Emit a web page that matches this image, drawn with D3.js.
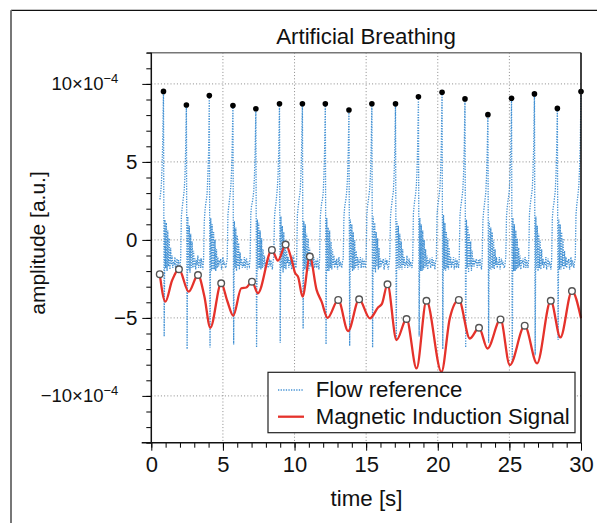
<!DOCTYPE html>
<html>
<head>
<meta charset="utf-8">
<script src="https://cdn.jsdelivr.net/npm/d3@7"></script>
<style>
  body { margin: 0; background: #fff; }
  svg text { font-family: "Liberation Sans", Arial, Helvetica, sans-serif; fill: #111; }
</style>
</head>
<body>
<div id="chart"></div>
<script>
// chart texts
const title = "Artificial Breathing";
const xLabel = "time [s]";
const yLabel = "amplitude [a.u.]";
const seriesNames = ["Flow reference", "Magnetic Induction Signal"];

// tick values (amplitude in units of 1e-4)
const xTicks = [0, 5, 10, 15, 20, 25, 30];
const yTicks = [-10, -5, 0, 5, 10];
const yExponent = "−4";

// flow reference, sampled every 0.05 s from t = 0.6 s (units 1e-4), one breath per row
const flowStart = 0.6, flowStep = 0.05;
const flowValues = [
  2.6, 3.0, 3.5, 4.6, 6.4,
  9.52, -6.2, 1.3, -1.8, 1.1, -2.0, 0.6, -1.7, 0.1, -1.9, -0.5, -1.6, -1.0, -1.8, -1.4, -1.5, -1.1, -1.9, -1.5, -1.2, -1.7, -1.3, -1.6, -1.8, -1.2, 1.5, 2.0, 2.4, 2.8, 3.2, 4.1, 5.9,
  8.65, -7.0, 1.5, -1.9, 0.9, -2.1, 0.4, -1.8, -0.1, -1.8, -0.7, -1.7, -1.2, -1.9, -1.3, -1.6, -1.0, -1.8, -1.4, -1.3, -1.8, -1.2, -1.5, -1.9, -1.3, 1.2, 1.9, 2.3, 2.6, 3.0, 4.2, 5.6,
  9.25, -6.9, 1.4, -2.0, 1.0, -1.9, 0.5, -1.9, 0.0, -2.0, -0.6, -1.8, -1.1, -1.7, -1.3, -1.5, -1.2, -1.9, -1.6, -1.1, -1.6, -1.4, -1.7, -1.8, -1.5, -1.2, 1.6, 2.1, 2.5, 2.9, 3.4, 4.3, 6.1,
  8.61, -6.7, 1.2, -1.8, 0.8, -2.0, 0.3, -1.7, -0.2, -1.9, -0.8, -1.6, -1.2, -1.8, -1.4, -1.7, -1.1, -1.8, -1.3, -1.2, -1.9, -1.4, -1.6, -1.7, -1.1, 1.7, 2.2, 2.4, 2.7, 3.1, 4.0, 5.7,
  8.41, -6.9, 1.3, -1.9, 1.1, -1.8, 0.6, -1.9, 0.1, -1.8, -0.6, -1.7, -1.0, -1.9, -1.5, -1.4, -1.2, -1.8, -1.6, -1.2, -1.7, -1.3, -1.5, -1.9, -1.4, -1.1, 1.4, 2.0, 2.3, 2.8, 3.3, 4.2, 5.8,
  8.73, -6.6, 1.5, -1.8, 0.9, -2.1, 0.5, -1.8, 0.0, -1.9, -0.7, -1.5, -1.1, -1.8, -1.3, -1.6, -1.2, -1.9, -1.4, -1.0, -1.7, -1.3, -1.6, -1.8, -1.2, 1.6, 2.1, 2.5, 2.8, 3.2, 4.3, 6.0,
  8.73, -5.7, 1.2, -1.9, 1.0, -1.9, 0.4, -1.7, 0.1, -2.0, -0.5, -1.7, -1.2, -1.7, -1.4, -1.5, -1.1, -1.8, -1.5, -1.3, -1.8, -1.2, -1.5, -1.9, -1.3, 1.5, 2.0, 2.4, 2.6, 3.0, 4.1, 5.8,
  8.72, -6.7, 1.4, -2.0, 0.8, -2.0, 0.6, -1.8, -0.1, -1.9, -0.6, -1.6, -1.0, -1.8, -1.3, -1.6, -1.2, -1.9, -1.5, -1.1, -1.7, -1.4, -1.6, -1.8, -1.4, -1.2, 1.5, 2.1, 2.4, 2.7, 3.2, 4.0, 5.7,
  8.33, -6.8, 1.3, -1.8, 1.0, -2.0, 0.5, -1.9, 0.0, -1.8, -0.7, -1.7, -1.1, -1.9, -1.4, -1.5, -1.1, -1.8, -1.4, -1.2, -1.8, -1.3, -1.5, -1.8, -1.2, 1.6, 2.2, 2.5, 2.9, 3.3, 4.2, 5.9,
  8.73, -6.9, 1.5, -1.9, 1.1, -2.1, 0.5, -1.7, 0.1, -1.9, -0.5, -1.8, -1.2, -1.7, -1.3, -1.5, -1.2, -1.9, -1.6, -1.2, -1.6, -1.3, -1.7, -1.9, -1.5, -1.1, 1.5, 2.0, 2.4, 2.8, 3.1, 4.1, 5.8,
  8.72, -6.4, 1.2, -1.8, 0.9, -1.9, 0.4, -1.8, -0.1, -1.9, -0.6, -1.6, -1.1, -1.8, -1.4, -1.6, -1.0, -1.8, -1.5, -1.2, -1.7, -1.4, -1.6, -1.8, -1.3, 1.7, 2.2, 2.6, 2.9, 3.4, 4.4, 6.2,
  9.17, -6.2, 1.4, -2.0, 1.0, -2.0, 0.6, -1.9, 0.0, -1.8, -0.6, -1.7, -1.0, -1.9, -1.3, -1.5, -1.2, -1.8, -1.6, -1.1, -1.7, -1.3, -1.5, -1.9, -1.4, -1.2, 1.6, 2.2, 2.5, 2.9, 3.3, 4.4, 6.2,
  9.46, -7.0, 1.6, -1.9, 1.1, -2.0, 0.5, -1.8, 0.1, -1.9, -0.5, -1.6, -1.1, -1.8, -1.4, -1.6, -1.1, -1.9, -1.4, -1.2, -1.8, -1.3, -1.6, -1.8, -1.2, 1.5, 2.1, 2.4, 2.8, 3.2, 4.2, 6.0,
  9.04, -6.9, 1.3, -1.8, 0.9, -2.1, 0.4, -1.7, -0.1, -2.0, -0.7, -1.7, -1.2, -1.7, -1.3, -1.5, -1.2, -1.8, -1.5, -1.3, -1.7, -1.2, -1.6, -1.9, -1.3, 1.2, 1.8, 2.2, 2.6, 3.0, 4.0, 5.6,
  8.03, -6.6, 1.2, -1.9, 0.8, -1.9, 0.5, -1.8, 0.0, -1.9, -0.6, -1.6, -1.1, -1.8, -1.4, -1.6, -1.1, -1.9, -1.5, -1.2, -1.6, -1.4, -1.7, -1.8, -1.5, -1.1, 1.5, 2.1, 2.5, 2.8, 3.2, 4.3, 6.0,
  9.08, -7.9, 1.4, -2.0, 1.0, -2.0, 0.6, -1.9, 0.1, -1.8, -0.5, -1.7, -1.0, -1.9, -1.3, -1.5, -1.2, -1.8, -1.4, -1.1, -1.8, -1.3, -1.5, -1.8, -1.2, 1.6, 2.2, 2.6, 2.9, 3.3, 4.3, 6.1,
  9.36, -7.4, 1.5, -1.8, 0.9, -2.0, 0.4, -1.8, 0.0, -1.9, -0.6, -1.6, -1.2, -1.8, -1.4, -1.6, -1.1, -1.9, -1.5, -1.2, -1.7, -1.4, -1.6, -1.9, -1.3, 1.4, 2.0, 2.3, 2.7, 3.1, 4.1, 5.7,
  8.43, -6.4, 1.3, -1.9, 1.0, -1.9, 0.5, -1.7, 0.1, -1.9, -0.7, -1.7, -1.1, -1.8, -1.3, -1.5, -1.2, -1.9, -1.6, -1.1, -1.7, -1.3, -1.5, -1.8, -1.4, -1.2, 1.6, 2.2, 2.6, 3.0, 3.5, 4.6, 6.3,
  9.51
];

// magnetic induction signal, turning points (units 1e-4)
const mindTime = [0.59, 0.98, 1.45, 1.93, 2.61, 3.26, 3.7, 4.12, 4.88, 5.3, 5.72, 6.28, 6.63, 7.03, 7.44,
  8.42, 8.84, 9.38, 9.8, 10.03, 10.26, 10.56, 11.07, 11.54, 11.89, 12.31, 13.05, 13.74, 14.51, 15.26,
  15.84, 16.1, 16.49, 17.12, 17.82, 18.52, 19.21, 20.26, 20.84, 21.47, 22.24, 22.88, 23.47, 24.38,
  25.03, 26.07, 26.93, 27.89, 28.56, 29.37, 30.0];
const mindValue = [-2.2, -3.96, -2.6, -1.88, -3.32, -2.25, -3.6, -5.63, -2.78, -3.9, -4.86, -3.1, -3.05, -2.68, -3.42,
  -0.64, -1.33, -0.3, -1.28, -2.1, -2.4, -3.64, -1.07, -3.2, -3.96, -5.0, -3.85, -5.84, -3.81, -5.03,
  -4.32, -4.1, -2.85, -6.42, -5.07, -8.24, -3.9, -8.46, -5.03, -3.85, -6.32, -5.63, -6.96, -5.1,
  -8.03, -5.5, -7.92, -3.9, -6.25, -3.28, -5.03];

const colors = { flow: "#4492d4", mind: "#e5322b" };

const W = 597, H = 523;
const margin = { top: 52.7, right: 16, bottom: 80.3, left: 151.3 },
  width = W - margin.left - margin.right,
  height = H - margin.top - margin.bottom;

const svg = d3.select("#chart").append("svg")
  .attr("width", W)
  .attr("height", H);

// outer figure frame
svg.append("line").attr("x1", 11).attr("x2", W).attr("y1", 10.3).attr("y2", 10.3)
  .attr("stroke", "#111").attr("stroke-width", 1.2);
svg.append("line").attr("x1", 11).attr("x2", 11).attr("y1", 10.3).attr("y2", H)
  .attr("stroke", "#777").attr("stroke-width", 2);

const g = svg.append("g").attr("transform", `translate(${margin.left},${margin.top})`);

const x = d3.scaleLinear().domain([0, 30]).range([0, width]);
const y = d3.scaleLinear().domain([-13, 12]).range([height, 0]);

// grid
g.append("g").selectAll("line")
  .data(xTicks.filter(d => d > 0 && d < 30))
  .join("line")
  .attr("x1", d => x(d)).attr("x2", d => x(d))
  .attr("y1", 0).attr("y2", height)
  .attr("stroke", "#8a8a8a").attr("stroke-width", 1).attr("stroke-dasharray", "1,2.2");
g.append("g").selectAll("line")
  .data(yTicks)
  .join("line")
  .attr("x1", 0).attr("x2", width)
  .attr("y1", d => y(d)).attr("y2", d => y(d))
  .attr("stroke", "#8a8a8a").attr("stroke-width", 1).attr("stroke-dasharray", "1,2.2");

g.append("clipPath").attr("id", "clip")
  .append("rect").attr("x", 0).attr("y", -4).attr("width", width + 4).attr("height", height + 4);

const plot = g.append("g").attr("clip-path", "url(#clip)");

const flow = flowValues.map((v, i) => ({ t: flowStart + i * flowStep, v: v }));
const mind = mindTime.map((t, i) => ({ t: t, v: mindValue[i] }));

plot.append("path")
  .datum(flow)
  .attr("fill", "none")
  .attr("stroke", colors.flow)
  .attr("stroke-width", 1.3)
  .attr("stroke-dasharray", "1.3,1.3")
  .attr("d", d3.line().x(d => x(d.t)).y(d => y(d.v)));

plot.append("path")
  .datum(mind)
  .attr("fill", "none")
  .attr("stroke", colors.mind)
  .attr("stroke-width", 2.3)
  .attr("d", d3.line().curve(d3.curveMonotoneX).x(d => x(d.t)).y(d => y(d.v)));

// black dots on the flow peaks
plot.append("g").selectAll("circle")
  .data(flow.filter(d => d.v > 7))
  .join("circle")
  .attr("cx", d => x(d.t)).attr("cy", d => y(d.v)).attr("r", 2.8)
  .attr("fill", "#000");

// open circles on the local maxima of the induction signal
const mindPeaks = mind.filter((d, i) =>
  (i === 0 || d.v > mind[i - 1].v) && i < mind.length - 1 && d.v > mind[i + 1].v);
plot.append("g").selectAll("circle")
  .data(mindPeaks)
  .join("circle")
  .attr("cx", d => x(d.t)).attr("cy", d => y(d.v)).attr("r", 3.3)
  .attr("fill", "#fff").attr("stroke", "#555").attr("stroke-width", 1.4);

// frame: top grey, right black
g.append("line").attr("x1", -4.6).attr("x2", width).attr("y1", 0).attr("y2", 0)
  .attr("stroke", "#777").attr("stroke-width", 1.5);
g.append("line").attr("x1", width).attr("x2", width).attr("y1", 0).attr("y2", height)
  .attr("stroke", "#111").attr("stroke-width", 1.6);

// y axis
const yMinor = g.append("g").call(d3.axisLeft(y).tickValues(d3.range(-13, 13)).tickSize(5).tickFormat(""));
const yAxis = g.append("g").call(d3.axisLeft(y).tickValues(yTicks).tickSize(9).tickPadding(5));
[yMinor, yAxis].forEach(a => a.select(".domain").remove());
yAxis.selectAll("text")
  .style("font-size", "20.5px")
  .each(function (d) {
    if (Math.abs(d) !== 10) return;
    const t = d3.select(this).text(null).attr("x", -33).style("font-size", "18.5px");
    t.append("tspan").text((d < 0 ? "−" : "") + "10×10");
    t.append("tspan").attr("dy", "-0.55em").style("font-size", "13px").text(yExponent);
  });
g.append("line").attr("x1", 0).attr("x2", 0).attr("y1", 0).attr("y2", height)
  .attr("stroke", "#111").attr("stroke-width", 1.5);

// x axis
const xMinor = g.append("g").attr("transform", `translate(0,${height})`)
  .call(d3.axisBottom(x).tickValues(d3.range(0, 31)).tickSize(5).tickFormat(""));
const xAxis = g.append("g").attr("transform", `translate(0,${height})`)
  .call(d3.axisBottom(x).tickValues(xTicks).tickSize(8).tickPadding(6));
[xMinor, xAxis].forEach(a => a.select(".domain").remove());
xAxis.selectAll("text").style("font-size", "22px");
g.append("line").attr("x1", -9.6).attr("x2", width).attr("y1", height).attr("y2", height)
  .attr("stroke", "#111").attr("stroke-width", 1.5);

// labels
svg.append("text").attr("x", 366).attr("y", 44).attr("text-anchor", "middle")
  .style("font-size", "22.3px").text(title);
svg.append("text").attr("x", 366.5).attr("y", 506).attr("text-anchor", "middle")
  .style("font-size", "22.3px").text(xLabel);
svg.append("text").attr("transform", "translate(44.5,243) rotate(-90)").attr("text-anchor", "middle")
  .style("font-size", "21px").text(yLabel);

// legend
const legend = svg.append("g").attr("transform", "translate(268,372.3)");
legend.append("rect").attr("width", 307).attr("height", 60.4)
  .attr("fill", "#fff").attr("stroke", "#222").attr("stroke-width", 1.2);
const items = [
  { name: seriesNames[0], color: colors.flow, dash: "1.3,1.3", w: 1.3 },
  { name: seriesNames[1], color: colors.mind, dash: null, w: 2.3 }
];
items.forEach((it, i) => {
  const yy = 17.7 + i * 26.7;
  legend.append("line").attr("x1", 10).attr("x2", 36).attr("y1", yy).attr("y2", yy)
    .attr("stroke", it.color).attr("stroke-width", it.w).attr("stroke-dasharray", it.dash);
  legend.append("text").attr("x", 47.7).attr("y", yy + 7.3)
    .style("font-size", "22.2px").text(it.name);
});
</script>
</body>
</html>
